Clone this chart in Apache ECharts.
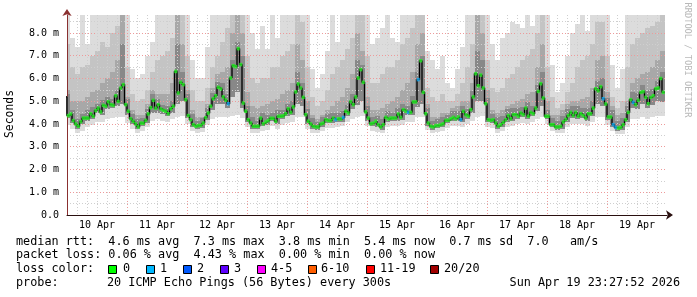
<!DOCTYPE html>
<html><head><meta charset="utf-8">
<script src="https://cdn.jsdelivr.net/npm/echarts@6/dist/echarts.min.js"></script>
<style>html,body{margin:0;padding:0;background:#fff}#c{width:697px;height:297px}</style>
</head><body><div id="c"></div>
<script>
// ---------- data ----------
const dayLabels = ['10 Apr','11 Apr','12 Apr','13 Apr','14 Apr','15 Apr','16 Apr','17 Apr','18 Apr','19 Apr'];
const yTickLabels = ['0.0','1.0 m','2.0 m','3.0 m','4.0 m','5.0 m','6.0 m','7.0 m','8.0 m'];
// hourly median RTT (ms), point i covers hours [i-1, i] from 10 Apr 00:00
const medianRtt = [
 5.19,4.37,4.44,4.15,4.0,3.9,4.1,4.26,4.26,4.26,
 4.45,4.34,4.59,4.7,4.53,4.82,4.78,4.98,4.85,4.82,
 5.24,4.99,5.58,5.73,4.85,4.56,4.23,4.12,4.0,3.87,
 4.04,4.03,4.16,4.44,4.72,5.04,4.69,4.85,4.66,4.6,
 4.56,4.45,4.67,4.78,6.31,5.36,5.83,5.73,5.07,4.37,
 4.19,3.97,3.9,3.93,3.94,4.04,4.28,4.48,4.78,5.11,
 5.24,5.61,5.54,5.19,5.05,4.89,6.02,6.56,6.52,7.31,
 6.61,4.92,4.56,4.19,4.04,3.9,3.9,3.9,4.26,4.01,
 4.09,4.15,4.25,4.25,4.12,4.34,4.34,4.36,4.45,4.67,
 4.51,4.75,5.41,5.76,5.58,5.17,4.41,4.12,4.0,3.9,
 3.87,3.87,4.0,4.04,4.19,4.15,4.15,4.26,4.19,4.23,
 4.22,4.29,4.56,4.48,4.98,4.85,5.19,6.02,6.39,5.83,
 4.53,4.26,4.01,4.04,4.12,3.97,3.87,3.97,4.29,4.22,
 4.26,4.26,4.26,4.44,4.29,4.63,4.56,4.51,4.51,4.97,
 4.97,5.95,6.78,5.39,4.45,4.04,3.9,3.87,3.93,3.93,
 3.97,4.01,4.16,4.16,4.23,4.29,4.23,4.31,4.19,4.56,
 4.4,4.34,4.63,5.19,6.21,5.68,6.15,5.58,4.89,4.19,
 4.16,4.19,4.04,3.9,3.97,4.07,4.19,4.37,4.23,4.41,
 4.41,4.34,4.48,4.41,4.7,4.34,4.51,4.45,4.7,5.43,
 5.77,5.14,4.34,4.34,3.97,3.97,3.87,3.87,3.9,4.09,
 4.2,4.37,4.51,4.37,4.51,4.34,4.45,4.37,4.26,4.45,
 4.45,4.7,5.55,5.46,5.64,5.11,4.88,4.31,4.31,3.97,
 3.85,3.82,3.85,3.97,4.19,4.51,5.07,4.95,4.85,5.04,
 5.39,5.42,5.17,4.89,5.17,5.24,5.55,5.58,6.0,5.39
];
// points with 1 of 20 pings lost
const lossOnePoints = [65,108,111,137,141,158,215,219,220,227];
// smoke (2-hour blocks, block j covers hours [2j-1, 2j+1])
const smokeMax = [
 8.8,7.8,7.4,8.8,7.5,8.8,8.8,8.8,8.8,8.8,8.8,8.8,
 8.8,6.4,6.0,6.2,7.0,7.6,8.8,8.8,8.8,8.8,8.8,8.8,
 8.8,6.8,6.0,6.0,7.4,8.8,8.8,8.8,8.8,8.8,8.8,8.8,
 8.8,8.0,7.3,8.3,7.3,8.8,7.8,8.8,8.8,8.8,8.8,8.8,
 8.8,6.4,5.6,6.2,7.2,8.8,7.6,8.8,8.8,8.8,8.8,8.8,
 8.8,7.5,7.8,8.2,8.8,7.8,7.6,8.8,8.8,8.8,8.8,8.8,
 7.2,6.8,6.4,7.0,5.8,5.6,6.4,7.4,8.8,8.8,8.8,8.8,
 8.8,7.5,6.8,7.8,8.0,8.5,8.4,8.2,8.8,8.3,8.8,8.8,
 8.8,6.6,5.4,5.8,7.0,8.0,8.4,8.8,8.1,8.8,8.8,8.8,
 8.8,6.6,5.6,6.4,8.8,8.8,8.8,8.8,8.8,8.8,8.8,8.8
];
const smokeP90 = [
 7.5,6.5,6.2,6.5,6.6,7.0,7.2,7.6,7.4,8.0,8.3,8.8,
 6.5,5.3,5.0,5.1,5.5,6.3,6.8,7.0,7.2,7.8,8.8,8.8,
 7.0,5.5,5.0,5.0,5.6,6.5,7.0,7.6,8.2,8.8,8.8,8.8,
 7.0,6.0,5.8,6.0,6.0,6.5,6.5,7.0,7.2,7.5,8.8,8.5,
 6.5,5.2,4.8,5.0,5.5,6.2,6.5,6.8,7.3,7.8,8.8,8.8,
 7.0,5.8,5.8,6.2,6.5,6.5,6.8,7.5,7.8,8.2,8.8,8.8,
 5.6,5.2,5.0,5.3,5.0,5.0,5.3,5.8,6.5,7.5,8.8,8.8,
 6.8,5.6,5.4,5.6,6.0,6.2,6.5,6.8,7.0,7.3,8.0,8.8,
 6.5,5.2,4.7,4.9,5.4,5.8,6.5,6.8,7.0,7.5,8.5,8.5,
 7.0,5.2,4.7,5.0,6.5,7.5,7.8,8.0,8.2,8.3,8.5,8.8
];
const smokeP75 = [
 5.5,5.0,5.0,5.0,5.2,5.4,5.5,5.8,6.0,6.3,6.8,8.8,
 5.2,4.6,4.4,4.4,4.9,5.5,5.3,5.3,5.3,5.8,8.8,7.5,
 5.5,4.6,4.3,4.3,4.9,5.6,6.2,6.3,6.5,8.0,8.8,8.0,
 5.4,4.8,4.7,4.8,4.9,5.0,5.1,5.3,5.5,5.8,7.5,6.8,
 5.0,4.4,4.2,4.4,4.6,4.8,5.0,5.2,5.6,6.2,8.0,7.2,
 5.2,4.6,4.6,4.7,4.9,5.0,5.2,5.5,5.8,6.3,7.5,8.0,
 4.9,4.3,4.3,4.5,4.5,4.7,4.8,5.0,5.0,5.8,8.8,8.0,
 5.5,4.6,4.5,4.6,4.8,4.9,5.0,5.1,5.3,5.4,6.5,7.5,
 5.0,4.4,4.4,4.6,4.9,5.0,5.0,5.1,5.2,5.6,6.8,7.0,
 5.4,4.8,4.4,4.5,5.0,5.8,6.0,6.2,6.3,6.5,6.8,7.2
];
const smokeP60 = [
 5.3,4.6,4.2,4.45,4.6,4.75,4.9,5.05,5.2,5.1,5.5,7.5,
 5.1,4.45,4.2,4.25,4.65,5.3,5.1,4.85,4.8,5.0,7.5,6.3,
 5.3,4.45,4.15,4.25,4.7,5.35,5.85,5.8,5.3,6.8,7.6,7.0,
 4.8,4.3,4.15,4.5,4.4,4.5,4.6,4.6,4.9,5.0,6.3,5.8,
 4.65,4.25,4.1,4.3,4.45,4.5,4.5,4.55,4.85,5.3,6.8,6.6,
 4.8,4.3,4.35,4.2,4.55,4.5,4.7,4.9,4.8,5.25,6.3,7.0,
 4.7,4.15,4.2,4.3,4.4,4.55,4.55,4.8,4.65,5.45,7.2,6.8,
 5.15,4.45,4.3,4.35,4.65,4.7,4.7,4.75,4.95,4.8,5.7,6.3,
 4.6,4.25,4.15,4.35,4.65,4.8,4.8,4.7,4.7,5.0,5.9,6.0,
 5.15,4.6,4.15,4.25,4.8,5.4,5.35,5.7,5.5,5.55,5.9,6.3
];
const smokeLow = [
 4.25,4.03,3.78,3.98,4.14,4.22,4.47,4.41,4.66,4.7,4.8,4.9,
 4.4,4.0,3.76,3.9,4.04,4.5,4.5,4.45,4.33,4.5,4.9,5.0,
 4.25,3.86,3.78,3.82,4.16,4.6,4.9,4.9,4.7,5.2,5.4,4.7,
 4.07,3.78,3.78,3.89,3.97,4.13,4.0,4.22,4.33,4.39,4.9,4.8,
 4.0,3.78,3.75,3.88,4.03,4.03,4.07,4.1,4.36,4.65,4.85,5.0,
 4.14,3.89,3.85,3.75,4.1,4.14,4.14,4.17,4.39,4.39,4.75,4.9,
 3.92,3.75,3.81,3.85,4.04,4.11,4.11,4.07,4.22,4.5,5.0,5.0,
 4.07,4.04,3.78,3.85,4.07,4.11,4.22,4.29,4.22,4.33,4.55,4.8,
 4.22,3.85,3.75,3.78,4.08,4.25,4.22,4.25,4.14,4.33,4.9,4.8,
 4.19,3.85,3.7,3.73,4.07,4.7,4.65,4.9,4.7,4.85,5.0,4.95
];
const smokeMin = [
 3.95,3.8,3.6,3.7,3.85,3.95,4.1,4.1,4.2,4.25,4.3,4.3,
 4.05,3.8,3.6,3.7,3.85,4.15,4.2,4.15,4.1,4.2,4.3,4.35,
 4.0,3.7,3.62,3.66,3.95,4.2,4.3,4.3,4.3,4.35,4.4,4.25,
 3.85,3.62,3.62,3.7,3.75,3.9,3.8,3.95,4.05,4.1,4.3,4.3,
 3.8,3.62,3.6,3.7,3.82,3.82,3.86,3.9,4.1,4.2,4.3,4.35,
 3.9,3.7,3.66,3.6,3.88,3.92,3.92,3.95,4.1,4.1,4.3,4.3,
 3.72,3.6,3.64,3.68,3.84,3.9,3.9,3.86,3.98,4.15,4.3,4.35,
 3.86,3.84,3.62,3.68,3.86,3.9,3.98,4.05,4.0,4.08,4.2,4.3,
 3.98,3.68,3.6,3.62,3.87,4.0,3.98,4.0,3.92,4.08,4.3,4.3,
 3.96,3.68,3.56,3.58,3.86,4.2,4.2,4.3,4.2,4.3,4.35,4.35
];
const statsLines = [
 'median rtt:  4.6 ms avg  7.3 ms max  3.8 ms min  5.4 ms now  0.7 ms sd  7.0   am/s',
 'packet loss: 0.06 % avg  4.43 % max  0.00 % min  0.00 % now'
];
const lossTitle = 'loss color:';
const lossLabels = ['0','1','2','3','4-5','6-10','11-19','20/20'];
const probeTitle = 'probe:';
const probeText = '20 ICMP Echo Pings (56 Bytes) every 300s';
const stampText = 'Sun Apr 19 23:27:52 2026';
const yAxisTitle = 'Seconds';
const watermark = 'RRDTOOL / TOBI OETIKER';

// ---------- styles ----------
const MONO = '"DejaVu Sans Mono", "Liberation Mono", monospace';
const LOSS_COLORS = ['#00ff00','#00b8ff','#0059ff','#5e00ff','#ff00ff','#ff5e00','#ff0000','#a10000'];
const MARK_COLORS = ['#22f022','#10a8f0'];
const LEGEND_BOX_X = [108,146,183,220,257,308,366,430];
const LEGEND_TXT_X = [123,160,197,234,271,321,380,444];

const chart = echarts.init(document.getElementById('c'), null, {renderer:'canvas', width:697, height:297});

function band(lo, hi, color) {
  return {
    type:'custom', coordinateSystem:'cartesian2d', xAxisIndex:0, yAxisIndex:0, z:2, silent:true,
    data: hi.map((h,j)=>[2*j, lo[j], h]),
    encode:{x:0, y:[1,2]},
    renderItem(params, api){
      const x = api.value(0), l = api.value(1), h = api.value(2);
      const p1 = api.coord([x-1, h]), p2 = api.coord([x+1, l]);
      const x0 = Math.round(p1[0]), x1 = Math.round(p2[0]);
      const y0 = Math.round(p1[1]), y1 = Math.round(p2[1]);
      const cs = params.coordSys;
      const shape = echarts.graphic.clipRectByRect(
        {x:x0, y:y0, width:x1-x0, height:y1-y0},
        {x:cs.x, y:cs.y, width:cs.width, height:cs.height});
      if (!shape) return;
      return {type:'rect', shape, style:{fill:color}};
    }
  };
}

const stepData = medianRtt.map((v,i)=>[i-1, v]);
stepData.push([medianRtt.length-1, medianRtt[medianRtt.length-1]]);
const markData = medianRtt.map((v,i)=>({
  value:[i-0.5, v],
  itemStyle:{color: lossOnePoints.includes(i) ? MARK_COLORS[1] : MARK_COLORS[0]}
}));

const graphic = [];
statsLines.forEach((t,k)=>{
  graphic.push({type:'text', x:16, y:241.5+13.8*k, z:100,
    style:{text:t, font:'11.8px '+MONO, fill:'#000', verticalAlign:'middle'}});
});
graphic.push({type:'text', x:16, y:269.3, z:100,
  style:{text:lossTitle, font:'11.8px '+MONO, fill:'#000', verticalAlign:'middle'}});
lossLabels.forEach((t,k)=>{
  graphic.push({type:'rect', z:100, shape:{x:LEGEND_BOX_X[k]+0.5, y:265.5, width:8, height:8},
    style:{fill:LOSS_COLORS[k], stroke:'#000', lineWidth:1}});
  graphic.push({type:'text', x:LEGEND_TXT_X[k], y:269.3, z:100,
    style:{text:t, font:'11.8px '+MONO, fill:'#000', verticalAlign:'middle'}});
});
graphic.push({type:'text', x:16, y:283, z:100,
  style:{text:probeTitle, font:'11.8px '+MONO, fill:'#000', verticalAlign:'middle'}});
graphic.push({type:'text', x:107, y:283, z:100,
  style:{text:probeText, font:'11.8px '+MONO, fill:'#000', verticalAlign:'middle'}});
graphic.push({type:'text', x:680, y:283, z:100,
  style:{text:stampText, font:'11.8px '+MONO, fill:'#000', verticalAlign:'middle', align:'right'}});
graphic.push({type:'text', x:10, y:114, rotation:Math.PI/2, z:100,
  style:{text:yAxisTitle, font:'11.4px '+MONO, fill:'#000', verticalAlign:'middle', align:'center'}});
graphic.push({type:'text', x:687, y:60, rotation:-Math.PI/2, z:100,
  style:{text:watermark, font:'8.7px '+MONO, fill:'#b8b8b8', verticalAlign:'middle', align:'center'}});

const option = {
  animation:false,
  backgroundColor:'#ffffff',
  grid:{left:67, top:15, width:600, height:200, containLabel:false},
  xAxis:[
    {type:'value', min:0, max:240, interval:24, z:5,
     axisLine:{show:true, lineStyle:{color:'#2a1010', width:1}, symbol:['none','arrow'], symbolSize:[7,7], symbolOffset:[0,6]},
     axisTick:{show:false}, axisLabel:{show:false},
     splitLine:{show:true, showMaxLine:false, lineStyle:{color:'#ee9a9a', type:[1,2], width:1}},
     minorTick:{show:false, splitNumber:6},
     minorSplitLine:{show:true, lineStyle:{color:'#cfcfcf', type:[1,2], width:1}}},
    {type:'value', min:0, max:240, interval:12, position:'bottom', z:5,
     axisLine:{show:false}, axisTick:{show:false}, splitLine:{show:false},
     axisLabel:{show:true, margin:5, fontFamily:'DejaVu Sans Mono', fontSize:10, color:'#000',
       formatter:(v)=> (v % 24 === 12) ? dayLabels[(v-12)/24] : ''}}
  ],
  yAxis:{type:'value', min:0, max:8.79, interval:1, z:5,
    axisLine:{show:true, lineStyle:{color:'#8a3030', width:1}, symbol:['none','arrow'], symbolSize:[7,7], symbolOffset:[0,6]},
    axisTick:{show:false},
    axisLabel:{margin:8, fontFamily:'DejaVu Sans Mono', fontSize:10, color:'#000',
      formatter:(v)=> Number.isInteger(v) && yTickLabels[v] !== undefined ? yTickLabels[v] : ''},
    splitLine:{show:true, showMaxLine:false, lineStyle:{color:'#ee9a9a', type:[1,2], width:1}},
    minorTick:{show:false, splitNumber:2},
    minorSplitLine:{show:true, lineStyle:{color:'#cfcfcf', type:[1,2], width:1}}},
  series:[
    band(smokeMin, smokeMax, '#dcdcdc'),
    band(smokeLow, smokeP90, '#c4c4c4'),
    band(smokeLow, smokeP75, '#a8a8a8'),
    band(smokeLow, smokeP60, '#888888'),
    {type:'line', data:stepData, step:'end', showSymbol:false, z:6, silent:true,
     lineStyle:{color:'#5a5a5a', width:2}},
    {type:'line', data:stepData, step:'end', showSymbol:false, z:7, silent:true,
     lineStyle:{color:'#000', width:1}},
    {type:'scatter', data:markData, symbol:'rect', symbolSize:[3,3.5], z:8, silent:true}
  ],
  graphic
};
chart.setOption(option);
</script>
</body></html>
